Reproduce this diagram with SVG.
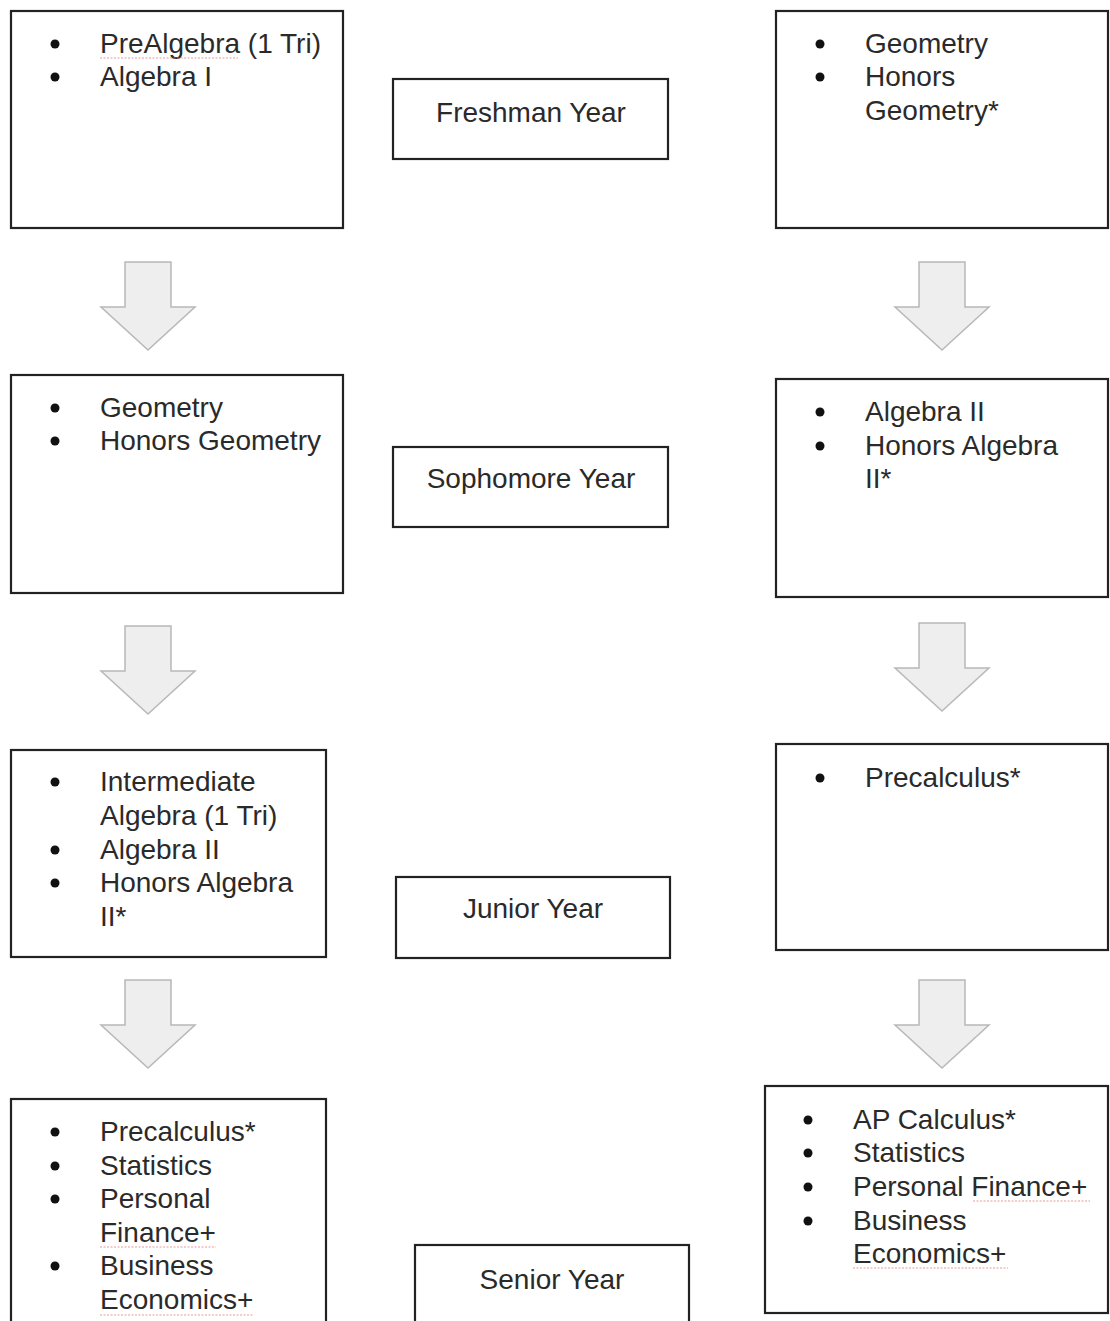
<svg xmlns="http://www.w3.org/2000/svg" width="1110" height="1321" viewBox="0 0 1110 1321">
<style>
.box{fill:#fff;stroke:#222;stroke-width:2.2}
.t{font-family:"Liberation Sans",Arial,sans-serif;font-size:28px;fill:#2a2a2a}
.c{text-anchor:middle}
.b{fill:#111}
.arr{fill:#eeeeee;stroke:#b8b8b8;stroke-width:1.5;stroke-linejoin:miter}
.sq{fill:none;stroke:#e08080;stroke-width:1.2;stroke-dasharray:2 1.5;opacity:0.8}
</style>
<defs>
<path id="down" class="arr" d="M-23,0 H23 V45 H47 L0,88 L-47,45 H-23 Z"/>
</defs>
<rect width="1110" height="1321" fill="#fff"/>
<g id="connectors">
<use href="#down" x="148" y="262"/>
<use href="#down" x="148" y="626"/>
<use href="#down" x="148" y="980"/>
<use href="#down" x="942" y="262"/>
<use href="#down" x="942" y="623"/>
<use href="#down" x="942" y="980"/>
</g>
<g id="fresh-left">
<rect class="box" x="11" y="11" width="332" height="217"/>
<circle class="b" cx="55" cy="44" r="4.5"/><text class="t" x="100" y="53">PreAlgebra (1 Tri)</text>
<circle class="b" cx="55" cy="77" r="4.5"/><text class="t" x="100" y="86">Algebra I</text>
<path class="sq" d="M100,58 H238"/>
</g>
<g id="freshman">
<rect class="box" x="393" y="79" width="275" height="80"/>
<text class="t c" x="531" y="122">Freshman Year</text>
</g>
<g id="fresh-right">
<rect class="box" x="776" y="11" width="332" height="217"/>
<circle class="b" cx="820" cy="44" r="4.5"/><text class="t" x="865" y="53">Geometry</text>
<circle class="b" cx="820" cy="77" r="4.5"/><text class="t" x="865" y="86">Honors</text>
<text class="t" x="865" y="120">Geometry*</text>
</g>
<g id="soph-left">
<rect class="box" x="11" y="375" width="332" height="218"/>
<circle class="b" cx="55" cy="408" r="4.5"/><text class="t" x="100" y="417">Geometry</text>
<circle class="b" cx="55" cy="441" r="4.5"/><text class="t" x="100" y="450">Honors Geometry</text>
</g>
<g id="sophomore">
<rect class="box" x="393" y="447" width="275" height="80"/>
<text class="t c" x="531" y="488">Sophomore Year</text>
</g>
<g id="soph-right">
<rect class="box" x="776" y="379" width="332" height="218"/>
<circle class="b" cx="820" cy="412" r="4.5"/><text class="t" x="865" y="421">Algebra II</text>
<circle class="b" cx="820" cy="446" r="4.5"/><text class="t" x="865" y="455">Honors Algebra</text>
<text class="t" x="865" y="488">II*</text>
</g>
<g id="junior-left">
<rect class="box" x="11" y="750" width="315" height="207"/>
<circle class="b" cx="55" cy="782" r="4.5"/><text class="t" x="100" y="791">Intermediate</text>
<text class="t" x="100" y="825">Algebra (1 Tri)</text>
<circle class="b" cx="55" cy="850" r="4.5"/><text class="t" x="100" y="859">Algebra II</text>
<circle class="b" cx="55" cy="883" r="4.5"/><text class="t" x="100" y="892">Honors Algebra</text>
<text class="t" x="100" y="926">II*</text>
</g>
<g id="junior">
<rect class="box" x="396" y="877" width="274" height="81"/>
<text class="t c" x="533" y="918">Junior Year</text>
</g>
<g id="junior-right">
<rect class="box" x="776" y="744" width="332" height="206"/>
<circle class="b" cx="820" cy="778" r="4.5"/><text class="t" x="865" y="787">Precalculus*</text>
</g>
<g id="senior-left">
<rect class="box" x="11" y="1099" width="315" height="240"/>
<circle class="b" cx="55" cy="1132" r="4.5"/><text class="t" x="100" y="1141">Precalculus*</text>
<circle class="b" cx="55" cy="1166" r="4.5"/><text class="t" x="100" y="1175">Statistics</text>
<circle class="b" cx="55" cy="1199" r="4.5"/><text class="t" x="100" y="1208">Personal</text>
<text class="t" x="100" y="1242">Finance+</text>
<circle class="b" cx="55" cy="1266" r="4.5"/><text class="t" x="100" y="1275">Business</text>
<text class="t" x="100" y="1309">Economics+</text>
<path class="sq" d="M100,1247 H216"/>
<path class="sq" d="M100,1315 H254"/>
</g>
<g id="senior">
<rect class="box" x="415" y="1245" width="274" height="100"/>
<text class="t c" x="552" y="1289">Senior Year</text>
</g>
<g id="senior-right">
<rect class="box" x="765" y="1086" width="343" height="227"/>
<circle class="b" cx="808" cy="1120" r="4.5"/><text class="t" x="853" y="1129">AP Calculus*</text>
<circle class="b" cx="808" cy="1153" r="4.5"/><text class="t" x="853" y="1162">Statistics</text>
<circle class="b" cx="808" cy="1187" r="4.5"/><text class="t" x="853" y="1196">Personal Finance+</text>
<circle class="b" cx="808" cy="1221" r="4.5"/><text class="t" x="853" y="1230">Business</text>
<text class="t" x="853" y="1263">Economics+</text>
<path class="sq" d="M973,1201 H1090"/>
<path class="sq" d="M853,1268 H1008"/>
</g>
</svg>
